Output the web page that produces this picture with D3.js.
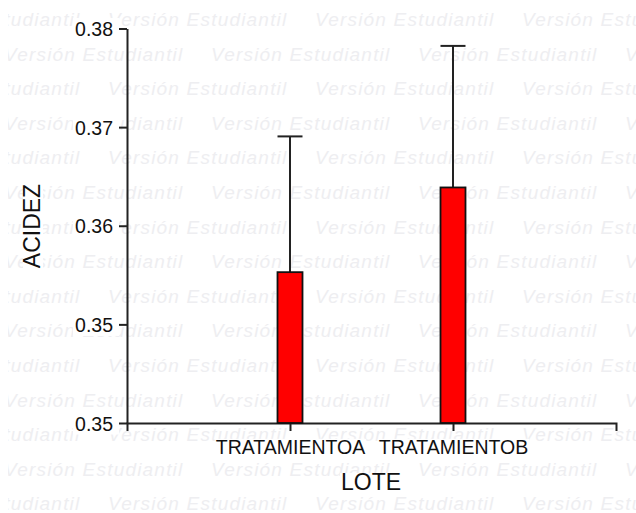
<!DOCTYPE html>
<html lang="es">
  <head>
    <meta charset="UTF-8" />
    <title>ACIDEZ por LOTE</title>
    <style>
      body { margin: 0; background: #fff; }
      svg { display: block; }
    </style>
  </head>
  <body>
    <svg id="svg" width="636" height="513"></svg>

    <script src="https://cdn.jsdelivr.net/npm/d3@7"></script>
    <script>
      const WIDTH = 636;
      const HEIGHT = 513;
      const FONT = "'Liberation Sans', Arial, sans-serif";

      // data
      const categories = ["TRATAMIENTOA", "TRATAMIENTOB"];
      const means = [0.359, 0.3663];
      const errors = [0.0117, 0.0122];
      const yTicks = [0.346, 0.3545, 0.363, 0.3715, 0.38];
      const yTickLabels = ["0.35", "0.35", "0.36", "0.37", "0.38"];
      const xTitle = "LOTE";
      const yTitle = "ACIDEZ";
      const watermark = "Versión Estudiantil";

      const data = categories.map((c, i) => ({ cat: c, mean: means[i], err: errors[i] }));

      const xScale = d3.scalePoint().domain(categories).range([127, 616]).padding(1);
      const yScale = d3.scaleLinear().domain([0.346, 0.38]).range([423, 28.5]);

      const svg = d3.select("#svg");
      svg.append("rect").attr("width", WIDTH).attr("height", HEIGHT).attr("fill", "#fff");

      // watermark rows, alternating offset
      svg.append("clipPath").attr("id", "wm-clip")
        .append("rect").attr("x", 8).attr("y", 0).attr("width", WIDTH - 8).attr("height", HEIGHT);
      const wmRows = d3.range(15);
      const wmCols = d3.range(-1, 4);
      const wm = svg.append("g").attr("clip-path", "url(#wm-clip)")
        .attr("font-family", FONT).attr("font-style", "italic")
        .attr("font-size", 19).attr("letter-spacing", "1.2px")
        .attr("fill", "#eeeef1");
      wmRows.forEach((r) => {
        const start = r % 2 === 0 ? 108 : 4;
        wm.selectAll(null)
          .data(wmCols)
          .enter()
          .append("text")
          .attr("x", (c) => start + c * 207)
          .attr("y", 26 + r * 34.6)
          .text(watermark);
      });

      // y axis
      const leftAxis = d3.axisLeft(yScale)
        .tickValues(yTicks)
        .tickFormat((d, i) => yTickLabels[i])
        .tickSize(8)
        .tickSizeOuter(0)
        .tickPadding(6);
      const gy = svg.append("g").attr("transform", "translate(127, 0)").call(leftAxis);
      gy.selectAll("path, line").attr("stroke", "#222").attr("stroke-width", 2);
      gy.selectAll("text")
        .attr("font-family", FONT).attr("font-size", 19.5).attr("fill", "#111")
        .attr("dy", "0.36em");
      // white box behind tick labels
      gy.selectAll(".tick").each(function () {
        const t = d3.select(this).select("text");
        const b = t.node().getBBox();
        d3.select(this).insert("rect", "text")
          .attr("x", b.x - 2).attr("y", b.y)
          .attr("width", -8 - (b.x - 2)).attr("height", b.height)
          .attr("fill", "#fff");
      });

      // x axis
      const bottomAxis = d3.axisBottom(xScale).tickSize(8).tickSizeOuter(8).tickPadding(9);
      const gx = svg.append("g").attr("transform", "translate(0, 423)").call(bottomAxis);
      gx.selectAll("path, line").attr("stroke", "#222").attr("stroke-width", 2);
      gx.selectAll("text")
        .attr("font-family", FONT).attr("font-size", 19.5).attr("fill", "#111");
      gx.selectAll(".tick").each(function () {
        const t = d3.select(this).select("text");
        const b = t.node().getBBox();
        d3.select(this).insert("rect", "text")
          .attr("x", b.x - 1).attr("y", b.y + 3)
          .attr("width", b.width + 2).attr("height", b.height - 3)
          .attr("fill", "#fff");
      });

      // error bars
      const barW = 25;
      const eb = svg.append("g").attr("stroke", "#222").attr("stroke-width", 2);
      eb.selectAll("line.v")
        .data(data)
        .enter()
        .append("line")
        .attr("x1", (d) => xScale(d.cat))
        .attr("x2", (d) => xScale(d.cat))
        .attr("y1", (d) => yScale(d.mean))
        .attr("y2", (d) => yScale(d.mean + d.err));
      eb.selectAll("line.cap")
        .data(data)
        .enter()
        .append("line")
        .attr("x1", (d) => xScale(d.cat) - barW / 2)
        .attr("x2", (d) => xScale(d.cat) + barW / 2)
        .attr("y1", (d) => yScale(d.mean + d.err))
        .attr("y2", (d) => yScale(d.mean + d.err));

      // bars
      svg.append("g")
        .selectAll("rect")
        .data(data)
        .enter()
        .append("rect")
        .attr("x", (d) => xScale(d.cat) - barW / 2)
        .attr("y", (d) => yScale(d.mean))
        .attr("width", barW)
        .attr("height", (d) => yScale(0.346) - yScale(d.mean))
        .attr("fill", "#ff0000")
        .attr("stroke", "#111")
        .attr("stroke-width", 1.8);

      // axis titles
      const xt = svg.append("text")
        .attr("x", 371).attr("y", 490)
        .attr("text-anchor", "middle")
        .attr("font-family", FONT).attr("font-size", 23).attr("fill", "#111")
        .text(xTitle);
      const yt = svg.append("text")
        .attr("transform", "translate(40, 226) rotate(-90)")
        .attr("text-anchor", "middle")
        .attr("font-family", FONT).attr("font-size", 23).attr("fill", "#111")
        .text(yTitle);
      [xt, yt].forEach((t) => {
        const b = t.node().getBBox();
        svg.insert("rect", () => t.node())
          .attr("transform", t.attr("transform"))
          .attr("x", b.x - 1).attr("y", b.y + 4)
          .attr("width", b.width + 2).attr("height", b.height - 6)
          .attr("fill", "#fff");
      });
    </script>
  </body>
</html>
